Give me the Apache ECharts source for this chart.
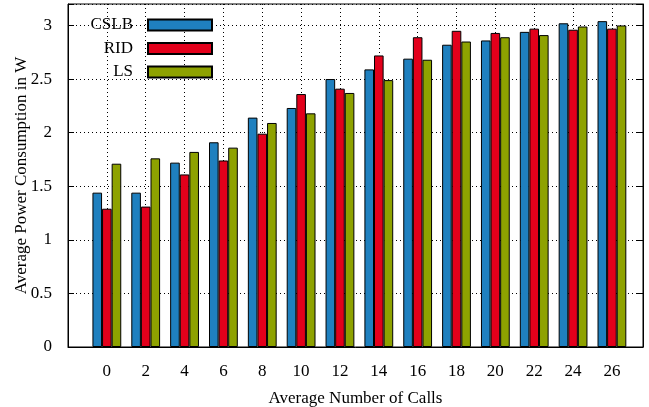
<!DOCTYPE html>
<html>
<head>
<meta charset="utf-8">
<script src="https://cdn.jsdelivr.net/npm/echarts@6/dist/echarts.min.js"></script>
<style>
  html, body { margin: 0; padding: 0; background: #fff; }
  #main { width: 649px; height: 407px; }
</style>
</head>
<body>
<div id="main"></div>
<script>
var myChart = echarts.init(document.getElementById('main'));

// average number of calls (x) and power (W) per method
var calls = [0, 2, 4, 6, 8, 10, 12, 14, 16, 18, 20, 22, 24, 26];
var cslb = [1.44, 1.44, 1.72, 1.91, 2.14, 2.23, 2.50, 2.59, 2.69, 2.82, 2.86, 2.94, 3.02, 3.04];
var rid  = [1.29, 1.31, 1.61, 1.74, 1.99, 2.36, 2.41, 2.72, 2.89, 2.95, 2.93, 2.97, 2.96, 2.97];
var ls   = [1.71, 1.76, 1.82, 1.86, 2.09, 2.18, 2.37, 2.49, 2.68, 2.85, 2.89, 2.91, 2.99, 3.00];
var names = ['CSLB', 'RID', 'LS'];
var colors = ['#1f80bf', '#e3001b', '#8ea200'];

var font = 'Liberation Serif';

function pairs(vals) {
    return vals.map(function (v, i) { return [calls[i], v]; });
}

var legends = names.map(function (n, i) {
    return {
        data: [n],
        orient: 'vertical',
        right: 436,
        top: 16.5 + i * 23.5,
        padding: 0,
        align: 'right',
        itemWidth: 64,
        itemHeight: 11,
        icon: 'rect',
        selectedMode: false,
        textStyle: {
            fontFamily: font,
            fontSize: 17,
            lineHeight: 17,
            color: '#000',
            padding: [0, 10, 0, 0]
        }
    };
});

var series = [cslb, rid, ls].map(function (vals, i) {
    return {
        name: names[i],
        type: 'bar',
        barWidth: 9.6,
        barGap: '0%',
        itemStyle: {
            color: colors[i],
            borderColor: '#000',
            borderWidth: 1
        },
        data: pairs(vals)
    };
});

var dotted = { color: '#000', type: [1, 3], width: 1 };

option = {
    backgroundColor: '#fff',
    animation: false,
    grid: {
        left: 68,
        right: 6,
        top: 4,
        bottom: 60,
        containLabel: false,
        outerBoundsMode: 'none',
        show: true,
        borderColor: '#000',
        borderWidth: 1
    },
    legend: legends,
    xAxis: {
        type: 'value',
        min: -2,
        max: 27.6,
        interval: 2,
        name: 'Average Number of Calls',
        nameLocation: 'middle',
        nameGap: 43,
        nameTextStyle: { fontFamily: font, fontSize: 17, color: '#000' },
        axisLine: { show: true, onZero: false, lineStyle: { color: '#000', width: 1 } },
        axisTick: { show: false },
        axisLabel: {
            margin: 16,
            fontFamily: font,
            fontSize: 17,
            color: '#000',
            formatter: function (v) {
                return (v >= 0 && v <= 26 && Math.abs(v % 2) < 1e-6) ? String(v) : '';
            }
        },
        splitLine: { show: true, lineStyle: dotted }
    },
    yAxis: [{
        type: 'value',
        min: 0,
        max: 3.2,
        interval: 0.5,
        name: 'Average Power Consumption in W',
        nameLocation: 'middle',
        nameGap: 38,
        nameMoveOverlap: false,
        nameTextStyle: { fontFamily: font, fontSize: 17, color: '#000' },
        axisLine: { show: true, onZero: false, lineStyle: { color: '#000', width: 1 } },
        axisTick: { show: true, inside: true, length: 6, lineStyle: { color: '#000' } },
        axisLabel: {
            margin: 16,
            fontFamily: font,
            fontSize: 17,
            color: '#000',
            formatter: function (v) { return v > 3.01 ? '' : String(v); }
        },
        splitLine: { show: true, lineStyle: dotted }
    }, {
        type: 'value',
        position: 'right',
        min: 0,
        max: 3.2,
        interval: 0.5,
        axisLine: { show: true, onZero: false, lineStyle: { color: '#000', width: 1 } },
        axisTick: { show: true, inside: true, length: 6, lineStyle: { color: '#000' } },
        axisLabel: { show: false },
        splitLine: { show: false }
    }],
    series: series
};

myChart.setOption(option);
</script>
</body>
</html>
